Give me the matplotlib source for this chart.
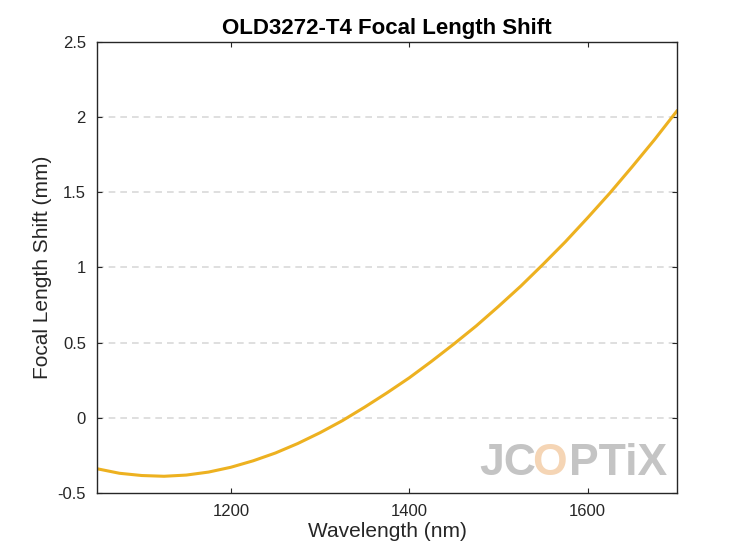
import matplotlib
matplotlib.use('Agg')
import matplotlib.pyplot as plt

plt.rcParams['font.family'] = 'Liberation Sans'

# values
wavelength = [1050, 1075, 1100, 1125, 1150, 1175, 1200, 1225, 1250, 1275, 1300,
              1325, 1350, 1375, 1400, 1425, 1450, 1475, 1500, 1525, 1550, 1575,
              1600, 1625, 1650, 1675, 1700]
shift = [-0.34, -0.37, -0.385, -0.39, -0.382, -0.362, -0.33, -0.287, -0.235,
         -0.172, -0.10, -0.02, 0.07, 0.165, 0.265, 0.375, 0.49, 0.61, 0.74,
         0.875, 1.02, 1.17, 1.33, 1.495, 1.67, 1.85, 2.04]
yticks = [-0.5, 0, 0.5, 1, 1.5, 2, 2.5]
xticks = [1200, 1400, 1600]

fig = plt.figure(figsize=(7.47, 5.6), dpi=100)
ax = fig.add_axes([0.13, 0.12, 0.776, 0.805])

for y in yticks[1:-1]:
    ax.axhline(y, color='#d9d9d9', lw=1.2, ls=(0, (4, 3)), zorder=0)

ax.plot(wavelength, shift, color='#EDB120', lw=2.2)

ax.set_xlim(1050, 1700)
ax.set_ylim(-0.5, 2.5)
ax.set_xticks(xticks)
ax.set_yticks(yticks)
ax.set_yticklabels(['-0.5', '0', '0.5', '1', '1.5', '2', '2.5'])
ax.tick_params(direction='in', labelsize=12, colors='#262626', top=True, right=True, pad=8)
for s in ax.spines.values():
    s.set_linewidth(1.0)
    s.set_color('#262626')

ax.set_xlabel('Wavelength (nm)', fontsize=15, color='#262626', labelpad=2)
ax.set_ylabel('Focal Length Shift (mm)', fontsize=15, color='#262626')
ax.set_title('OLD3272-T4 Focal Length Shift', fontsize=16, fontweight='bold')

# watermark
fig.text(0.641, 0.135, 'JC', fontsize=32, fontweight='bold', color='#c4c4c4', ha='left', va='bottom')
fig.text(0.713, 0.135, 'O', fontsize=32, fontweight='bold', color='#f5d5b5', ha='left', va='bottom')
fig.text(0.762, 0.135, 'PTiX', fontsize=32, fontweight='bold', color='#c4c4c4', ha='left', va='bottom')

fig.savefig('out.png', dpi=100)
